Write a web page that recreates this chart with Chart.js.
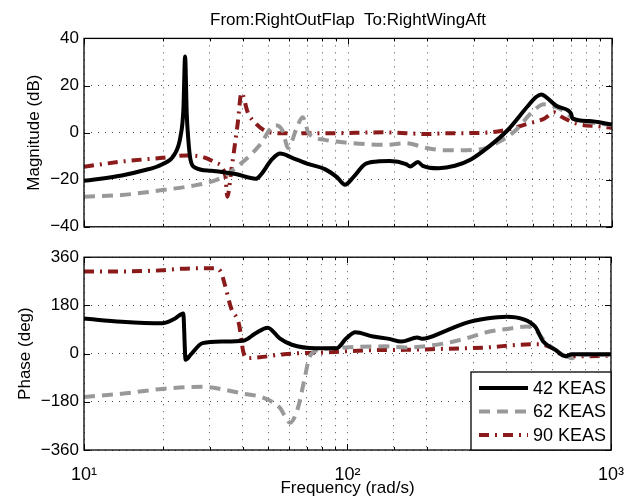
<!DOCTYPE html>
<html>
<head>
<meta charset="utf-8">
<script src="https://cdn.jsdelivr.net/npm/chart.js@4.4.1/dist/chart.umd.min.js"></script>
<style>
  body { margin: 0; background: #fff; }
  #wrap { position: relative; width: 638px; height: 500px; }
  canvas { position: absolute; left: 0; }
</style>
</head>
<body>
<div id="wrap">
  <canvas id="magChart" width="638" height="242" style="top:0"></canvas>
  <canvas id="phaseChart" width="638" height="258" style="top:242px"></canvas>
</div>
<script>
// Series names
var seriesNames = ["42 KEAS", "62 KEAS", "90 KEAS"];

// Magnitude (dB), each series read at its own frequencies (rad/s)
var mag42Freq = [10, 13.9, 16.6, 19.8, 22, 23.2, 23.8, 24.15, 24.5, 24.8, 25.3, 26.3, 30.3, 37.5, 44.8, 46.5, 51.5, 55.3, 61.5, 71, 81.7, 90.8, 97.5, 104.8, 116, 129, 144, 166, 172, 184, 192, 220, 254, 292, 337, 402, 481, 516, 540, 563, 615, 684, 700, 709, 817, 1000];
var mag42 = [-20.5, -18.2, -16.2, -13.4, -9.3, -1.7, 10, 32.3, 8, -2, -11.4, -14.8, -16.2, -17.6, -19.6, -18.2, -11.4, -8.9, -10.7, -13.4, -15.5, -18.9, -22.1, -18.9, -13.4, -12.3, -12.1, -13.4, -14.4, -12.5, -14.1, -15.1, -14.1, -11.4, -6.5, 1.0, 11.4, 15.1, 16.2, 15.1, 11.4, 9.3, 8.0, 5.9, 4.9, 3.4];

var mag62Freq = [10, 13.9, 19.8, 26.3, 31.4, 34.9, 40.3, 46.4, 51.5, 53.3, 56.4, 59.4, 63.8, 67.3, 71, 81.7, 97.5, 139, 166, 198, 236, 314, 375, 432, 497, 553, 638, 735, 850, 1000];
var mag62 = [-27.2, -26.5, -24.4, -22.4, -20.3, -17.6, -12.1, -5.2, 2.4, 3.1, 1.0, -6.5, 1.7, 6.5, -0.3, -3.1, -4.2, -5.2, -4.5, -6.5, -7.5, -7.2, -3.8, 1.0, 8.6, 12.0, 9.9, 5.2, 4.2, 3.1];

var mag90Freq = [10, 13.9, 19.8, 24.5, 28.2, 31.4, 34.3, 34.9, 36.2, 38.2, 39.5, 41.7, 44.8, 49.7, 57.4, 81.7, 139, 198, 236, 337, 402, 481, 553, 605, 650, 735, 880, 1000];
var mag90 = [-14.5, -12.3, -10.7, -9.7, -10.4, -12.7, -18.2, -27.2, -15.5, 3.8, 16.9, 8.6, 3.8, 0.3, -0.3, -0.3, 0.1, -0.6, -0.3, 0, 1.3, 3.8, 5.9, 8.6, 6.5, 3.8, 2.7, 2.1];

// Phase (deg)
var ph42Freq = [10, 13.9, 19.8, 22, 23.8, 24.3, 25.4, 28.2, 33.7, 40.2, 44.8, 49.8, 55.3, 61.5, 76, 90.8, 99, 107, 125, 144, 160, 184, 192, 236, 282, 337, 402, 463, 516, 553, 615, 673, 709, 1000];
var ph42 = [131, 119, 113, 129, 150, -23, -4, 39, 45, 48, 76, 97, 57, 33, 20, 20, 57, 80, 64, 55, 45, 60, 55, 85, 115, 131, 138, 129, 100, 45, 14, -10, -2, -2];

var ph62Freq = [10, 13.9, 19.8, 28.2, 33.7, 40.2, 48, 55.3, 60.5, 64.9, 68.4, 72, 79, 97.5, 139, 166, 236, 282, 337, 402, 481, 516, 570, 661, 709, 760, 1000];
var ph62 = [-162, -150, -132, -124, -134, -150, -165, -202, -258, -202, -103, -10, 14, 23, 27, 23, 39, 57, 80, 92, 101, 88, 39, -4, -17, -4, -4];

var ph90Freq = [10, 13.9, 19.8, 23.6, 31.4, 33.1, 34.3, 36.2, 38.8, 40.2, 41.7, 46.4, 57.4, 81.7, 116, 166, 236, 337, 447, 534, 593, 673, 760, 1000];
var ph90 = [307, 307, 311, 317, 319, 304, 255, 169, 107, 8, -17, -14, -2, 4, 12, 14, 18, 23, 33, 35, 23, -10, -10, -8];

// Axis ticks
var freqLabels = {10: "10\u00B9", 100: "10\u00B2", 1000: "10\u00B3"};
var magTicks = [-40, -20, 0, 20, 40];
var phaseTicks = [-360, -180, 0, 180, 360];

var FONT = "'Liberation Sans', Arial, Helvetica, sans-serif";
var styles = [
  { borderColor: "#000000", borderWidth: 4, borderDash: [] },
  { borderColor: "#999999", borderWidth: 4, borderDash: [11, 7] },
  { borderColor: "#8b1a1a", borderWidth: 4, borderDash: [10, 6, 2, 6] }
];

function pts(fr, vals) {
  return fr.map(function (f, i) { return { x: f, y: vals[i] }; });
}

function makeSets(list) {
  return list.map(function (d, i) {
    return Object.assign({
      label: seriesNames[i],
      data: pts(d[0], d[1]),
      pointRadius: 0,
      fill: false,
      cubicInterpolationMode: "monotone"
    }, styles[i]);
  });
}

function minusSign(v) { return String(v).replace("-", "\u2212"); }

// box around the plot with inward tick marks, like the original
var boxPlugin = {
  id: "box",
  afterDraw: function (chart) {
    var ctx = chart.ctx, a = chart.chartArea;
    var xs = chart.scales.x, ys = chart.scales.y;
    ctx.save();
    ctx.strokeStyle = "#000";
    ctx.lineWidth = 1;
    ctx.beginPath();
    xs.ticks.forEach(function (t) {
      var px = Math.round(xs.getPixelForValue(t.value)) + 0.5;
      var len = freqLabels[t.value] ? 6 : 3;
      ctx.moveTo(px, a.bottom); ctx.lineTo(px, a.bottom - len);
      ctx.moveTo(px, a.top); ctx.lineTo(px, a.top + len);
    });
    ys.ticks.forEach(function (t) {
      var py = Math.round(ys.getPixelForValue(t.value)) + 0.5;
      ctx.moveTo(a.left, py); ctx.lineTo(a.left + 6, py);
      ctx.moveTo(a.right, py); ctx.lineTo(a.right - 6, py);
    });
    ctx.stroke();
    ctx.lineWidth = 1.3;
    ctx.strokeRect(a.left, a.top, a.right - a.left, a.bottom - a.top);
    ctx.restore();
  }
};

// legend in the lower right corner of the phase plot
var legendPlugin = {
  id: "cornerLegend",
  afterDraw: function (chart) {
    var ctx = chart.ctx, a = chart.chartArea;
    var w = 140, h = 78;
    var left = a.right - w, top = a.bottom - h;
    ctx.save();
    ctx.fillStyle = "#fff";
    ctx.fillRect(left, top, w, h);
    ctx.strokeStyle = "#000";
    ctx.lineWidth = 1.3;
    ctx.strokeRect(left, top, w, h);
    var rows = [16, 39.5, 63];
    chart.data.datasets.forEach(function (ds, i) {
      var y = top + rows[i];
      ctx.beginPath();
      ctx.strokeStyle = ds.borderColor;
      ctx.lineWidth = ds.borderWidth;
      ctx.setLineDash(ds.borderDash);
      ctx.moveTo(left + 8, y);
      ctx.lineTo(left + 57, y);
      ctx.stroke();
      ctx.setLineDash([]);
      ctx.fillStyle = "#000";
      ctx.font = "18px " + FONT;
      ctx.textBaseline = "middle";
      ctx.textAlign = "left";
      ctx.fillText(ds.label, left + 62, y + 1);
    });
    ctx.restore();
  }
};

function gridOpts() {
  return { color: "rgba(0,0,0,0.7)", lineWidth: 1, drawTicks: false };
}

var magChart = new Chart(document.getElementById("magChart"), {
  type: "line",
  data: {
    datasets: makeSets([[mag42Freq, mag42], [mag62Freq, mag62], [mag90Freq, mag90]])
  },
  options: {
    responsive: false,
    animation: false,
    devicePixelRatio: 1,
    layout: { padding: { left: 0, right: 26, top: 0, bottom: 0 } },
    plugins: {
      legend: { display: false },
      tooltip: { enabled: false },
      title: {
        display: true,
        text: "From:RightOutFlap  To:RightWingAft",
        fullSize: false,
        color: "#000",
        font: { family: FONT, size: 17, weight: "normal" },
        padding: { top: 10, bottom: 8 }
      }
    },
    scales: {
      x: {
        type: "logarithmic",
        min: 10, max: 1000,
        grid: gridOpts(),
        border: { display: false, dash: [1, 6] },
        ticks: { display: false, autoSkip: false },
        afterFit: function (s) { s.height = 12; }
      },
      y: {
        min: -40, max: 40,
        afterBuildTicks: function (s) { s.ticks = magTicks.map(function (v) { return { value: v }; }); },
        grid: gridOpts(),
        border: { display: false, dash: [1, 6] },
        ticks: {
          color: "#000", padding: 5,
          font: { family: FONT, size: 17 },
          callback: minusSign
        },
        title: {
          display: true, text: "Magnitude (dB)", color: "#000",
          font: { family: FONT, size: 17 },
          padding: { top: 24, bottom: 0 }
        },
        afterFit: function (s) { s.width = 84; }
      }
    }
  },
  plugins: [boxPlugin]
});

var phaseChart = new Chart(document.getElementById("phaseChart"), {
  type: "line",
  data: {
    datasets: makeSets([[ph42Freq, ph42], [ph62Freq, ph62], [ph90Freq, ph90]])
  },
  options: {
    responsive: false,
    animation: false,
    devicePixelRatio: 1,
    layout: { padding: { left: 0, right: 26, top: 13, bottom: 0 } },
    plugins: {
      legend: { display: false },
      tooltip: { enabled: false }
    },
    scales: {
      x: {
        type: "logarithmic",
        min: 10, max: 1000,
        grid: gridOpts(),
        border: { display: false, dash: [1, 6] },
        ticks: {
          autoSkip: false, maxRotation: 0, color: "#000", padding: 14,
          font: { family: FONT, size: 18 },
          callback: function (v) { return freqLabels[v] || ""; }
        },
        title: {
          display: true, text: "Frequency (rad/s)", color: "#000",
          font: { family: FONT, size: 17 },
          padding: { top: 0, bottom: 1 }
        },
        afterFit: function (s) { s.height = 50; }
      },
      y: {
        min: -360, max: 360,
        afterBuildTicks: function (s) { s.ticks = phaseTicks.map(function (v) { return { value: v }; }); },
        grid: gridOpts(),
        border: { display: false, dash: [1, 6] },
        ticks: {
          color: "#000", padding: 5,
          font: { family: FONT, size: 17 },
          callback: minusSign
        },
        title: {
          display: true, text: "Phase (deg)", color: "#000",
          font: { family: FONT, size: 17 },
          padding: { top: 15, bottom: 0 }
        },
        afterFit: function (s) { s.width = 84; }
      }
    }
  },
  plugins: [boxPlugin, legendPlugin]
});
</script>
</body>
</html>
